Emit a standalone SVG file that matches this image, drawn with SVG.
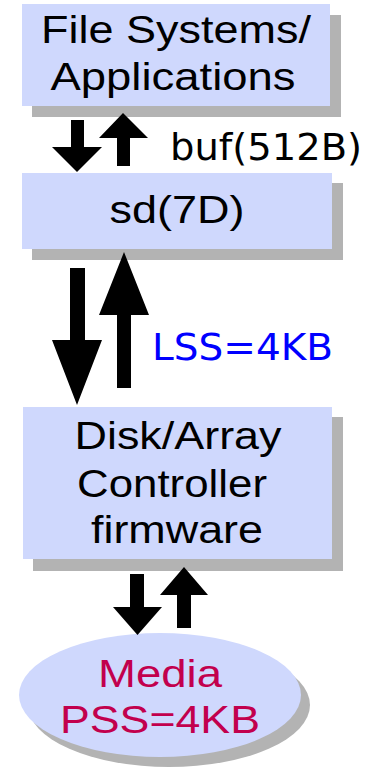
<svg xmlns="http://www.w3.org/2000/svg" width="370" height="770" viewBox="0 0 370 770">
<style>
.box{fill:#cfd8fd}
.shadow{fill:#b3b3b3}
.t{font-family:"Liberation Sans",Arial,sans-serif;font-size:38px;fill:#000;text-anchor:middle}
.lbl{font-family:"DejaVu Sans",sans-serif;font-size:38px}
.arrow{fill:#000}
</style>
<rect width="370" height="770" fill="#fff"/>
<g id="fs">
<rect class="shadow" x="32" y="15" width="309" height="102"/>
<rect class="box" x="22" y="4" width="308" height="102"/>
<text class="t" x="176" y="43" textLength="270" lengthAdjust="spacingAndGlyphs">File Systems/</text>
<text class="t" x="173" y="90" textLength="245" lengthAdjust="spacingAndGlyphs">Applications</text>
</g>
<g id="sd">
<rect class="shadow" x="32" y="183" width="311" height="77"/>
<rect class="box" x="22" y="173" width="310" height="76"/>
<text class="t" x="177" y="223" textLength="135" lengthAdjust="spacingAndGlyphs">sd(7D)</text>
</g>
<g id="ctrl">
<rect class="shadow" x="33" y="417" width="310" height="154"/>
<rect class="box" x="23" y="407" width="309" height="152"/>
<text class="t" x="178" y="449" textLength="207" lengthAdjust="spacingAndGlyphs">Disk/Array</text>
<text class="t" x="172" y="497" textLength="190" lengthAdjust="spacingAndGlyphs">Controller</text>
<text class="t" x="177" y="543" textLength="172" lengthAdjust="spacingAndGlyphs">firmware</text>
</g>
<g id="media">
<ellipse class="shadow" cx="169" cy="705" rx="141" ry="62"/>
<ellipse class="box" cx="160" cy="695" rx="141" ry="62"/>
<text class="t" x="160" y="687" fill="#c2004d" style="fill:#c2004d" textLength="124" lengthAdjust="spacingAndGlyphs">Media</text>
<text class="t" x="160" y="733" style="fill:#c2004d" textLength="200" lengthAdjust="spacingAndGlyphs">PSS=4KB</text>
</g>
<g id="connectors">
<polygon class="arrow" points="71,120 84,120 84,147 102,147 77,172 52,147 71,147"/>
<polygon class="arrow" points="123,113 148,138 130,138 130,166 117,166 117,138 99,138"/>
<polygon class="arrow" points="70,268 85,268 85,340 102,340 77,405 52,340 70,340"/>
<polygon class="arrow" points="124,252 149,315 131,315 131,388 117,388 117,315 99,315"/>
<polygon class="arrow" points="130,574 144,574 144,607 162,607 137.5,635 113,607 130,607"/>
<polygon class="arrow" points="184,567 208,595 191,595 191,628 177,628 177,595 160,595"/>
</g>
<g id="labels">
<text class="lbl" x="170" y="160" fill="#000" textLength="192" lengthAdjust="spacingAndGlyphs">buf(512B)</text>
<text class="lbl" x="152" y="360" fill="#0000ff" textLength="181" lengthAdjust="spacingAndGlyphs">LSS=4KB</text>
</g>
</svg>
